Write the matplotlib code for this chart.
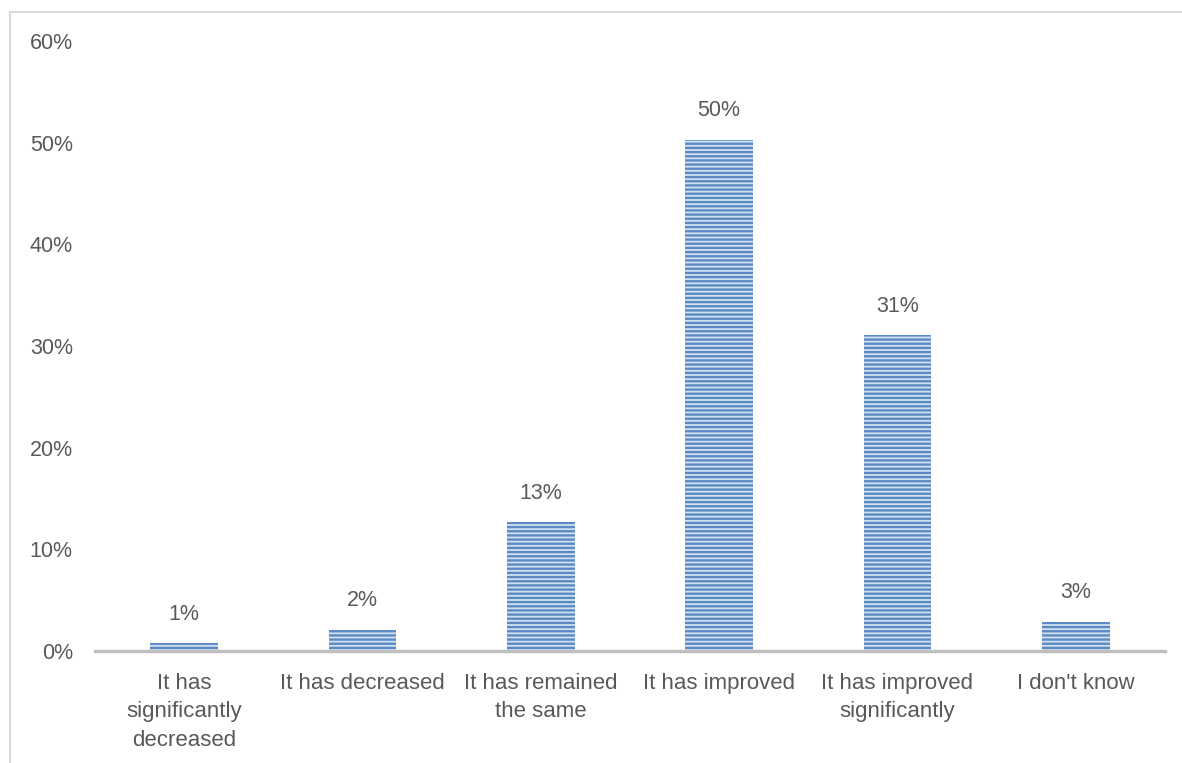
import matplotlib.pyplot as plt
from matplotlib.ticker import FuncFormatter
from matplotlib.patches import Rectangle

# --------------------------------------------------
# Data
# --------------------------------------------------
categories = [
    "It has\nsignificantly\ndecreased",
    "It has decreased",
    "It has remained\nthe same",
    "It has improved",
    "It has improved\nsignificantly",
    "I don't know",
]
values = [0.8, 2.1, 12.7, 50.3, 31.1, 2.9]
labels = ["1%", "2%", "13%", "50%", "31%", "3%"]
yticks = [0, 10, 20, 30, 40, 50, 60]

text_color = "#595959"

plt.rcParams["font.family"] = ["Liberation Sans", "DejaVu Sans"]
plt.rcParams["hatch.color"] = "#5a8ac4"
plt.rcParams["hatch.linewidth"] = 1.7

fig = plt.figure(figsize=(11.82, 7.63), dpi=100)
ax = fig.add_axes([95 / 1182, 1 - 651 / 763, 1070 / 1182, 610 / 763])

x = range(len(categories))
bars = ax.bar(
    x,
    values,
    width=0.38,
    color="#d3e0f1",
    edgecolor="#5a8ac4",
    linewidth=0,
    hatch="----",
    zorder=2,
)

for bar, lab in zip(bars, labels):
    ax.text(
        bar.get_x() + bar.get_width() / 2,
        bar.get_height() + 1.8,
        lab,
        ha="center",
        va="bottom",
        fontsize=15.5,
        color=text_color,
    )

ax.set_xlim(-0.5, len(categories) - 0.5)
ax.set_ylim(0, 60)
ax.set_yticks(yticks)
ax.yaxis.set_major_formatter(FuncFormatter(lambda v, p: f"{v:.0f}%"))
ax.set_xticks(list(x))
ax.set_xticklabels(categories, fontsize=16, color=text_color, linespacing=1.45)
ax.tick_params(axis="y", labelsize=15.5, labelcolor=text_color, length=0, pad=16)
ax.tick_params(axis="x", length=0, pad=16)

for side in ["top", "right", "left"]:
    ax.spines[side].set_visible(False)
ax.spines["bottom"].set_color("#bfbfbf")
ax.spines["bottom"].set_linewidth(2.5)
ax.spines["bottom"].set_zorder(3)

# outer chart border (left and top edges visible)
fig.patches.append(
    Rectangle(
        (10 / 1182, -0.1),
        1.2,
        1.1 - 12 / 763,
        transform=fig.transFigure,
        fill=False,
        edgecolor="#d9d9d9",
        linewidth=1.5,
    )
)

fig.savefig("out.png", dpi=100)
